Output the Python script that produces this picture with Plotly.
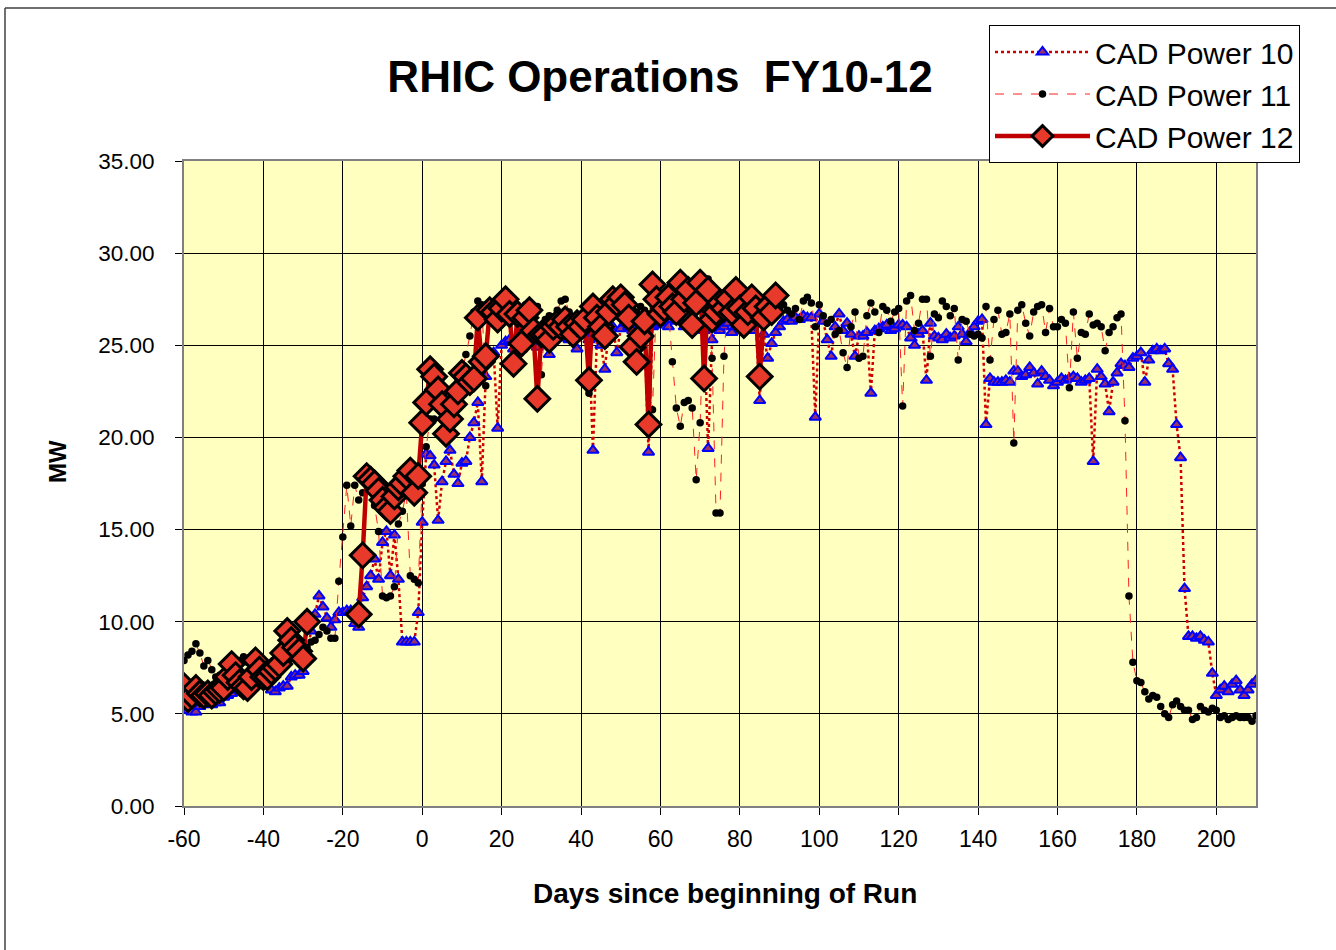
import plotly.graph_objects as go

# ---------------- data ----------------
days_10 = list(range(-60, 211))
power_10 = [
    5.8, 5.2, 5.1, 5.1, 5.4, 5.7, 5.6, 5.5, 5.6, 5.6,          # -60..-51
    5.9, 6.0, 6.1, 6.3, 6.6, 6.8, 7.0, 7.1, 7.2, 7.0,          # -50..-41
    6.8, 6.5, 6.3, 6.2, 6.4, 6.5, 6.5, 7.0, 7.1, 7.1,          # -40..-31
    7.3, 8.2, 9.5, 10.4, 11.4, 10.8, 10.2, 9.7, 10.1, 10.5,    # -30..-21
    10.5, 10.6, 10.6, 9.9, 9.7, 11.3, 11.9, 12.5, 13.4, 12.3,  # -20..-11
    14.3, 14.9, 12.5, 14.7, 12.3, 8.9, 8.9, 8.9, 8.9, 10.5,    # -10..-1
    15.4, 19.1, 19.0, 18.5, 15.5, 17.6, 18.7, 19.3, 18.0, 17.5,  # 0..9
    18.6, 18.7, 20.0, 20.8, 21.9, 17.6, 23.3, 24.3, 24.6, 20.5,  # 10..19
    25.0, 25.2, 25.3, 24.8, 24.6, 24.8, 25.6, 25.5, 25.2, 24.9,  # 20..29
    25.2, 25.4, 24.5, 25.3, 25.6, 25.4, 25.5, 25.3, 25.6, 24.8,  # 30..39
    25.5, 25.8, 25.3, 19.3, 25.4, 25.0, 23.7, 25.8, 26.0, 24.6,  # 40..49
    25.9, 26.2, 26.0, 25.8, 26.3, 26.1, 25.7, 19.2, 26.0, 26.1,  # 50..59
    26.2, 26.3, 26.0, 26.4, 26.3, 26.3, 26.0, 26.2, 26.4, 25.9,  # 60..69
    26.1, 25.8, 19.4, 25.3, 25.9, 25.8, 26.0, 26.2, 25.7, 26.0,  # 70..79
    26.1, 25.9, 26.2, 25.8, 26.4, 22.0, 25.6, 24.3, 25.1, 25.7,  # 80..89
    26.0, 26.3, 26.4, 26.3, 26.5, 26.4, 26.6, 26.5, 26.5, 21.1,  # 90..99
    26.7, 26.3, 25.3, 24.4, 26.0, 26.7, 25.8, 26.2, 25.6, 24.4,  # 100..109
    25.5, 25.5, 25.7, 22.4, 25.8, 25.9, 26.0, 26.1, 25.8, 25.9,  # 110..119
    26.1, 26.1, 26.0, 25.4, 25.0, 25.6, 25.8, 23.1, 26.2, 25.5,  # 120..129
    25.4, 25.3, 25.6, 25.4, 25.5, 26.0, 25.6, 25.2, 25.7, 26.0,  # 130..139
    26.3, 26.4, 20.7, 23.2, 23.0, 23.0, 23.0, 23.1, 23.0, 23.6,  # 140..149
    23.6, 23.3, 23.4, 23.8, 23.5, 22.9, 23.6, 23.3, 23.1, 22.8,  # 150..159
    23.0, 23.2, 23.1, 23.2, 23.3, 23.2, 23.0, 23.1, 23.2, 18.7,  # 160..169
    23.7, 23.3, 22.9, 21.4, 23.0, 23.5, 24.0, 23.9, 23.8, 24.3,  # 170..179
    24.4, 24.6, 23.0, 24.2, 24.7, 24.8, 24.7, 24.8, 24.0, 23.7,  # 180..189
    20.7, 18.9, 11.8, 9.2, 9.2, 9.1, 9.2, 9.0, 8.9, 7.2,         # 190..199
    6.0, 6.3, 6.5, 6.2, 6.6, 6.8, 6.3, 6.0, 6.3, 6.6,            # 200..209
    6.8,                                                         # 210
]

days_11 = list(range(-60, 211))
power_11 = [
    7.9, 8.2, 8.4, 8.8, 8.3, 7.6, 7.9, 7.4, 7.0, 7.1,          # -60..-51
    7.2, 7.5, 7.8, 7.6, 7.9, 8.1, 7.8, 7.6, 8.0, 7.8,          # -50..-41
    7.5, 7.4, 7.2, 7.5, 7.8, 8.0, 8.2, 8.0, 8.3, 8.5,          # -40..-31
    8.2, 8.6, 8.9, 9.0, 9.3, 9.7, 9.5, 9.1, 9.1, 12.2,         # -30..-21
    14.6, 17.4, 15.2, 17.4, 16.6, 17.0, 17.6, 17.2, 16.3, 14.9,  # -20..-11
    11.4, 11.3, 11.4, 11.9, 15.3, 16.0, 17.0, 12.5, 12.3, 12.1,  # -10..-1
    17.5, 19.5, 21.0, 21.0, 22.5, 21.5, 22.0, 22.0, 22.5, 23.0,  # 0..9
    23.5, 24.5, 25.5, 26.8, 27.4, 27.2, 22.8, 27.3, 27.0, 27.2,  # 10..19
    27.4, 27.1, 26.5, 27.0, 26.8, 26.5, 27.2, 27.0, 26.8, 27.1,  # 20..29
    23.4, 26.4, 26.6, 26.5, 26.9, 27.4, 27.5, 26.8, 26.3, 26.5,  # 30..39
    26.6, 26.5, 22.4, 26.8, 27.0, 26.5, 26.8, 27.2, 27.0, 26.6,  # 40..49
    27.0, 26.8, 27.3, 27.0, 26.8, 27.1, 26.9, 26.7, 21.5, 27.5,  # 50..59
    27.3, 27.0, 26.8, 24.1, 21.6, 20.6, 21.9, 22.0, 21.6, 17.7,  # 60..69
    20.8, 27.2, 28.6, 24.3, 15.9, 15.9, 24.4, 27.5, 27.2, 26.8,  # 70..79
    27.0, 27.3, 26.6, 26.9, 27.2, 26.8, 27.0, 26.5, 27.1, 26.8,  # 80..89
    27.0, 27.2, 26.9, 26.7, 27.0, 26.4, 27.4, 27.6, 27.3, 26.0,  # 90..99
    27.2, 26.6, 26.2, 26.4, 25.6, 25.8, 24.6, 23.8, 26.0, 26.8,  # 100..109
    24.3, 24.4, 26.6, 27.3, 26.8, 25.7, 27.1, 26.9, 26.3, 26.8,  # 110..119
    27.0, 21.7, 27.4, 27.7, 25.8, 26.2, 27.5, 27.5, 24.4, 26.7,  # 120..129
    26.5, 27.4, 27.1, 26.6, 27.0, 24.2, 26.4, 26.3, 25.6, 25.5,  # 130..139
    25.6, 25.4, 27.1, 24.2, 26.4, 26.9, 25.6, 25.7, 26.7, 19.7,  # 140..149
    26.9, 27.2, 26.2, 25.5, 26.8, 27.1, 27.2, 25.7, 27.0, 26.0,  # 150..159
    26.0, 26.4, 26.2, 22.7, 26.8, 24.3, 25.7, 25.6, 26.7, 26.1,  # 160..169
    26.2, 26.0, 24.7, 25.7, 26.0, 26.5, 26.7, 20.9, 11.4, 7.8,   # 170..179
    6.8, 6.7, 6.2, 5.8, 6.0, 5.9, 5.4, 5.0, 4.8, 5.5,            # 180..189
    5.7, 5.4, 5.2, 5.2, 4.7, 4.8, 5.4, 5.2, 5.1, 5.3,            # 190..199
    5.2, 4.8, 4.9, 4.7, 4.8, 4.9, 4.8, 4.8, 4.8, 4.6,            # 200..209
    4.9,                                                         # 210
]

days_12 = list(range(-60, 90))
power_12 = [
    6.5, 5.8, 6.0, 6.4, 6.1, 6.0, 6.1, 6.0, 6.2, 6.3,          # -60..-51
    6.4, 7.0, 7.7, 7.1, 6.7, 6.5, 6.4, 7.0, 7.9, 7.4,          # -50..-41
    7.0, 7.0, 7.3, 7.5, 7.7, 8.3, 9.5, 9.0, 8.6, 8.4,          # -40..-31
    8.0, 10.0, None, None, None, None, None, None, None, None,  # -30..-21
    None, None, None, None, 10.4, 13.6, 17.9, 17.7, 17.5, 17.1,  # -20..-11
    16.6, 16.2, 16.0, 16.8, 17.3, 17.5, 17.9, 18.2, 17.0, 17.9,  # -10..-1
    20.8, 21.9, 23.7, 23.3, 22.6, 21.8, 20.2, 21.0, 21.8, 22.5,  # 0..9
    23.5, 23.3, 23.0, 23.2, 26.5, 24.1, 24.4, 26.9, 26.8, 26.4,  # 10..19
    27.0, 27.5, 26.7, 24.0, 26.7, 25.1, 26.5, 26.9, 25.8, 22.1,  # 20..29
    25.6, 25.6, 25.3, 26.0, 26.2, 26.0, 26.4, 26.0, 25.6, 26.2,  # 30..39
    26.0, 26.4, 23.1, 27.1, 26.5, 26.0, 25.5, 26.8, 27.5, 27.3,  # 40..49
    27.6, 27.2, 26.5, 24.9, 24.1, 25.5, 26.3, 20.7, 28.3, 27.5,  # 50..59
    26.7, 27.0, 27.6, 27.1, 26.8, 28.4, 27.5, 28.0, 26.1, 27.3,  # 60..69
    28.4, 23.2, 28.0, 26.4, 26.8, 27.3, 27.0, 27.5, 26.8, 28.0,  # 70..79
    27.0, 26.1, 26.8, 27.6, 27.0, 23.3, 26.5, 27.1, 26.8, 27.7,  # 80..89
]

x_ticks = [-60, -40, -20, 0, 20, 40, 60, 80, 100, 120, 140, 160, 180, 200]
x_tick_labels = ["-60", "-40", "-20", "0", "20", "40", "60", "80", "100",
                 "120", "140", "160", "180", "200"]
y_ticks = [0, 5, 10, 15, 20, 25, 30, 35]
y_tick_labels = ["0.00", "5.00", "10.00", "15.00", "20.00", "25.00", "30.00", "35.00"]

FONT = "Liberation Sans, Arial, sans-serif"

fig = go.Figure()

fig.add_trace(go.Scatter(
    x=days_10, y=power_10, name="CAD Power 10", mode="lines+markers",
    legendgroup="g10",
    line=dict(color="#D00000", width=2.5, dash="dot"),
    marker=dict(symbol="triangle-up", size=10, color="#993366",
                line=dict(color="#0000FF", width=2)),
))
fig.add_trace(go.Scatter(
    x=days_11, y=power_11, name="CAD Power 11", mode="lines+markers",
    legendgroup="g11",
    line=dict(color="#FF2020", width=1, dash="dash"),
    marker=dict(symbol="circle", size=7.5, color="#000000"),
))
fig.add_trace(go.Scatter(
    x=days_12, y=power_12, name="CAD Power 12", mode="lines+markers",
    legendgroup="g12", connectgaps=False,
    line=dict(color="#C00000", width=4.5),
    marker=dict(symbol="diamond", size=19, color="#E83A2A",
                line=dict(color="#000000", width=3)),
))

fig.update_layout(
    width=1336, height=950,
    margin=dict(l=184, r=80, t=161, b=144, autoexpand=False),
    paper_bgcolor="#FFFFFF",
    plot_bgcolor="#FFFFC0",
    font=dict(family=FONT, size=23, color="#000000"),
    title=dict(text="<b>RHIC Operations  FY10-12</b>",
               font=dict(family=FONT, size=44, color="#000000"),
               x=(660 - 184) / 1072, xref="paper", xanchor="center",
               y=1 - 77 / 950, yref="container", yanchor="middle"),
    legend=dict(x=(989 - 184) / 1072, y=(806 - 25) / 645,
                xanchor="left", yanchor="top",
                bgcolor="#FFFFFF", bordercolor="#000000", borderwidth=1,
                font=dict(family=FONT, size=30, color="#000000"),
                traceorder="grouped", tracegroupgap=0,
                itemwidth=95),
    showlegend=True,
)

fig.update_xaxes(
    range=[-60, 210], tickmode="array", tickvals=x_ticks, ticktext=x_tick_labels,
    ticks="outside", ticklen=7, tickcolor="#000000", tickwidth=1,
    ticklabelstandoff=4,
    showgrid=True, gridcolor="#000000", gridwidth=1,
    showline=True, linecolor="#808080", linewidth=2, mirror=True,
    zeroline=False,
    tickfont=dict(family=FONT, size=23, color="#000000"),
)
fig.update_yaxes(
    range=[0, 35], tickmode="array", tickvals=y_ticks, ticktext=y_tick_labels,
    ticks="outside", ticklen=7, tickcolor="#000000", tickwidth=1,
    ticklabelstandoff=16,
    showgrid=True, gridcolor="#000000", gridwidth=1,
    showline=True, linecolor="#808080", linewidth=2, mirror=True,
    zeroline=False,
    tickfont=dict(family=FONT, size=22.5, color="#000000"),
)

fig.add_annotation(text="<b>Days since beginning of Run</b>", xref="paper", yref="paper",
                   x=(725 - 184) / 1072, y=(806 - 893) / 645, showarrow=False,
                   xanchor="center", yanchor="middle",
                   font=dict(family=FONT, size=28, color="#000000"))
fig.add_annotation(text="<b>MW</b>", xref="paper", yref="paper",
                   x=(57 - 184) / 1072, y=(806 - 462) / 645, showarrow=False,
                   textangle=-90, xanchor="center", yanchor="middle",
                   font=dict(family=FONT, size=24, color="#000000"))

# outer chart frame (left and top edges)
fig.add_shape(type="line", xref="paper", yref="paper",
              x0=(5 - 184) / 1072, x1=(5 - 184) / 1072,
              y0=(806 - 960) / 645, y1=(806 - 8) / 645,
              line=dict(color="#404040", width=1.5))
fig.add_shape(type="line", xref="paper", yref="paper",
              x0=(5 - 184) / 1072, x1=(1340 - 184) / 1072,
              y0=(806 - 8) / 645, y1=(806 - 8) / 645,
              line=dict(color="#404040", width=1.5))

fig.write_html("out.html", config={"displayModeBar": False},
               post_script="document.body.style.margin='0';document.body.style.overflow='hidden';")
